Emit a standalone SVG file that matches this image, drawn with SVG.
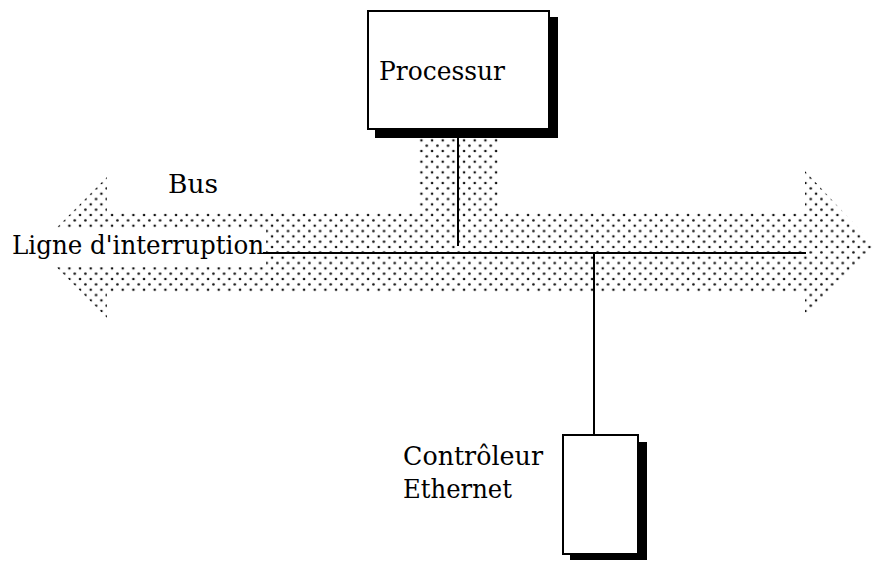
<svg xmlns="http://www.w3.org/2000/svg" width="874" height="561" viewBox="0 0 874 561">
  <defs>
    <pattern id="dots" patternUnits="userSpaceOnUse" x="5.4" y="1.7" width="10.667" height="10.667">
      <circle cx="0" cy="0" r="1.3" fill="#111"/>
      <circle cx="10.667" cy="0" r="1.3" fill="#111"/>
      <circle cx="0" cy="10.667" r="1.3" fill="#111"/>
      <circle cx="10.667" cy="10.667" r="1.3" fill="#111"/>
      <circle cx="5.333" cy="5.333" r="1.3" fill="#111"/>
    </pattern>
  </defs>
  <style>
    .lbl { font-family: "DejaVu Serif", "Liberation Serif", serif; font-size: 26px; fill: #000; }
    .box { fill: #fff; stroke: #000; stroke-width: 2; }
    .shadow { fill: #000; }
    .wire { stroke: #000; stroke-width: 2; fill: none; }
  </style>
  <rect width="874" height="561" fill="#fff"/>

  <g id="bus">
    <polygon fill="url(#dots)" points="37,247.5 107,177 107,213 805,213 805,171 874,245 805,319 805,292 107,292 107,318"/>
    <rect x="419" y="138" width="79" height="76" fill="url(#dots)"/>
    <text class="lbl" x="168" y="193" textLength="50" lengthAdjust="spacingAndGlyphs">Bus</text>
  </g>

  <g id="interrupt-label">
    <rect x="0" y="228" width="266" height="39" fill="#fff"/>
    <text class="lbl" x="12" y="254" textLength="252" lengthAdjust="spacingAndGlyphs">Ligne d'interruption</text>
  </g>

  <g id="processeur">
    <rect class="shadow" x="375" y="17" width="183" height="121"/>
    <rect class="box" x="368" y="11" width="181" height="118"/>
    <text class="lbl" x="379" y="80" textLength="126" lengthAdjust="spacingAndGlyphs">Processur</text>
  </g>

  <g id="controleur-ethernet">
    <rect class="shadow" x="570" y="442" width="77" height="118"/>
    <rect class="box" x="563" y="435" width="75" height="119"/>
    <text class="lbl" x="403" y="465" textLength="140" lengthAdjust="spacingAndGlyphs">Contrôleur</text>
    <text class="lbl" x="403" y="498" textLength="109" lengthAdjust="spacingAndGlyphs">Ethernet</text>
  </g>

  <g id="connectors">
    <line class="wire" x1="263" y1="253" x2="806" y2="253"/>
    <line class="wire" x1="458" y1="138" x2="458" y2="246"/>
    <line class="wire" x1="594" y1="253" x2="594" y2="435"/>
  </g>
</svg>
